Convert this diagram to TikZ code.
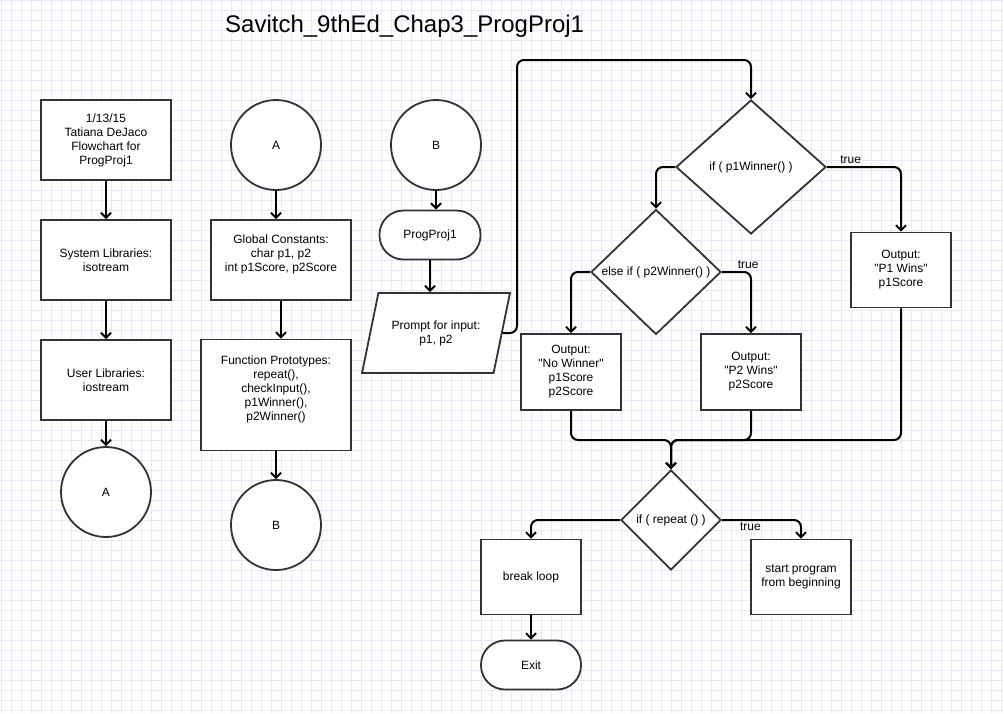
\documentclass[tikz,border=0pt]{standalone}
\usepackage{fontspec}
\setmainfont{Liberation Sans}
\usetikzlibrary{arrows.meta,shapes.geometric}

\definecolor{gridcol}{RGB}{232,232,250}
\definecolor{edgecol}{RGB}{51,51,51}
\newcommand{\dtext}[1]{\makebox[0pt]{#1}}

\tikzset{
  shapebase/.style={draw=edgecol, line width=1.8pt, fill=white, align=center,
    inner sep=0pt, font=\fontsize{12}{14}\selectfont},
  procbox/.style={shapebase, rectangle, minimum width=100pt, minimum height=80pt},
  offpage/.style={shapebase, circle, minimum size=90pt},
  terminal/.style={shapebase, rectangle, rounded corners=24pt,
    minimum width=100pt, minimum height=49pt},
  decision/.style={shapebase, diamond},
  iobox/.style={shapebase, trapezium, trapezium left angle=63.4,
    trapezium right angle=116.6, trapezium stretches=true,
    minimum width=148pt, minimum height=80pt},
  flow/.style={->, >={Straight Barb[length=5pt,width=10pt]}, line width=2pt,
    rounded corners=7pt},
  flowlabel/.style={font=\fontsize{12}{14}\selectfont, inner sep=2pt}
}

\begin{document}
\begin{tikzpicture}[x=1pt, y=-1pt]
\fill[white] (0,0) rectangle (1004,713);
\useasboundingbox (0,0) rectangle (1004,713);
% grid paper
\foreach \gx in {1,11,...,1001} \draw[gridcol, line width=1pt] (\gx,0) -- (\gx,713);
\foreach \gy in {0,10,...,710} \draw[gridcol, line width=1pt] (0,\gy) -- (1004,\gy);

\node[anchor=base west, inner sep=0pt, font=\fontsize{24}{28}\selectfont] (title) at (225,32)
  {Savitch\_9thEd\_Chap3\_ProgProj1};

% left column
\node[procbox, minimum width=130pt] (info) at (106,140) {1/13/15\\Tatiana DeJaco\\Flowchart for\\ProgProj1};
\node[procbox, minimum width=130pt] (syslib) at (106,260) {System Libraries:\\isotream};
\node[procbox, minimum width=130pt] (usrlib) at (106,380) {User Libraries:\\iostream};
\node[offpage] (offA) at (106,492) {A};

% second column
\node[offpage] (onA) at (276,145) {A};
\node[procbox, minimum width=140pt] (glob) at (281,260)
  {Global Constants:\\char p1, p2\\int p1Score, p2Score\\\mbox{}};
\node[procbox, minimum width=150pt, minimum height=111pt] (proto) at (276,395)
  {Function Prototypes:\\repeat(),\\checkInput(),\\p1Winner(),\\p2Winner()\\\mbox{}};
\node[offpage] (offB) at (276,525) {B};

% main program
\node[offpage] (onB) at (436,145) {B};
\node[terminal, minimum width=101pt] (prog) at (430,235) {ProgProj1};
\node[iobox] (prompt) at (436,333) {Prompt for input:\\p1, p2};
\coordinate (loop) at (517,60);

\node[decision, minimum width=150pt, minimum height=134pt] (dOne) at (751,167)
  {\dtext{if ( p1Winner() )}};
\node[decision, minimum width=130pt, minimum height=125pt] (dTwo) at (656,272)
  {\dtext{else if ( p2Winner() )}};
\node[procbox, minimum height=75pt] (winOne) at (901,270)
  {Output:\\\textquotedbl P1 Wins\textquotedbl\\p1Score};
\node[procbox, minimum height=76pt] (noWin) at (571,372)
  {Output:\\\textquotedbl No Winner\textquotedbl\\p1Score\\p2Score};
\node[procbox, minimum height=76pt] (winTwo) at (751,372)
  {Output:\\\textquotedbl P2 Wins\textquotedbl\\p2Score};
\coordinate (merge) at (671,440);
\node[decision, minimum width=100pt, minimum height=100pt] (dRep) at (671,520)
  {\dtext{if ( repeat () )}};
\node[procbox, minimum height=75pt] (brk) at (531,577) {break loop};
\node[procbox, minimum height=75pt] (again) at (801,577) {start program\\from beginning};
\node[terminal] (exit) at (531,665) {Exit};

% connectors
\path[flow] (info) edge (syslib) (syslib) edge (usrlib) (usrlib) edge (offA)
  (proto) edge (offB) (brk) edge (exit);
\draw[flow] (onA) -- (onA |- glob.north);
\draw[flow] (glob) -- (glob |- proto.north);
\draw[flow] (onB) -- (onB |- prog.north);
\draw[flow] (prog) -- (prog |- prompt.north);
\draw[flow] (prompt.east) -| (loop) -| (dOne.north);
\draw[flow] (dOne.west) -| (dTwo.north);
\draw[flow] (dOne.east) -| node[flowlabel, pos=0.16, above] {true} (winOne.north);
\draw[flow] (dTwo.west) -| (noWin.north);
\draw[flow] (dTwo.east) -| node[flowlabel, pos=0.45, above] {true} (winTwo.north);
\draw[flow] (noWin.south) |- (merge) -- (dRep.north);
\draw[flow] (winTwo.south) |- (merge) -- (dRep.north);
\draw[flow] (winOne.south) |- (merge) -- (dRep.north);
\draw[flow] (dRep.west) -| (brk.north);
\draw[flow] (dRep.east) -| node[flowlabel, pos=0.18, below] {true} (again.north);
\end{tikzpicture}
\end{document}
